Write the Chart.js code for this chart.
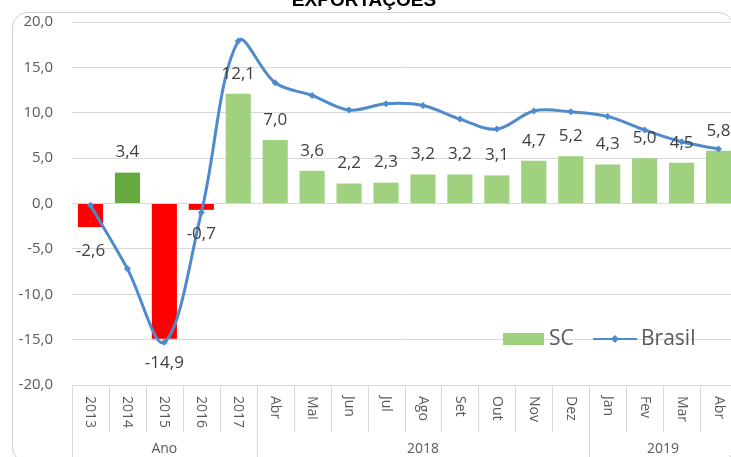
<!DOCTYPE html>
<html lang="pt-BR">
<head>
<meta charset="utf-8">
<title>Exportações</title>
<script src="https://cdn.jsdelivr.net/npm/chart.js@4.4.1/dist/chart.umd.min.js"></script>
<style>
  html, body { margin: 0; padding: 0; background: #fff; overflow: hidden; }
  #wrap { position: absolute; left: 0; top: 0; width: 745px; height: 457px; }
</style>
</head>
<body>
<div id="wrap"><canvas id="grafico" width="745" height="457"></canvas></div>
<script>
// variação (%) das exportações
const categorias = ['2013', '2014', '2015', '2016', '2017', 'Abr', 'Mai', 'Jun', 'Jul', 'Ago', 'Set', 'Out', 'Nov', 'Dez', 'Jan', 'Fev', 'Mar', 'Abr'];
const valoresSC = [-2.6, 3.4, -14.9, -0.7, 12.1, 7.0, 3.6, 2.2, 2.3, 3.2, 3.2, 3.1, 4.7, 5.2, 4.3, 5.0, 4.5, 5.8];
const valoresBrasil = [-0.2, -7.2, -15.3, -1.0, 17.9, 13.3, 11.9, 10.3, 11.0, 10.8, 9.3, 8.2, 10.2, 10.1, 9.6, 8.1, 6.8, 6.0];
const grupos = ['Ano', '2018', '2019'];
const tamanhoGrupo = [5, 9, 4];
const ticksY = [-20, -15, -10, -5, 0, 5, 10, 15, 20];

const VERDE = '#9fd17f';
const VERDE_ESCURO = '#64a83e';
const VERMELHO = '#ff0000';
const AZUL = '#4f8bcb';
const CINZA_TXT = '#595959';
const LINHA = '#d9d9d9';
const FONTE = '"Open Sans", "Noto Sans", sans-serif';

const fmt = v => v.toFixed(1).replace('.', ',');

function corBarra(ctx) {
  const v = ctx.raw;
  if (v < 0) return VERMELHO;
  return ctx.dataIndex === 1 ? VERDE_ESCURO : VERDE;
}

const desenho = {
  id: 'desenho',
  beforeDraw(chart) {
    const c = chart.ctx;
    c.save();
    c.fillStyle = '#fff';
    c.fillRect(0, 0, chart.width, chart.height);
    // moldura arredondada
    c.strokeStyle = '#d0d0d0';
    c.lineWidth = 1;
    c.beginPath();
    c.roundRect(12.5, 12.5, 721, 450, 15);
    c.stroke();
    // título
    c.fillStyle = '#000';
    c.font = 'bold 19px "Liberation Sans", Arial, sans-serif';
    c.textAlign = 'center';
    c.textBaseline = 'alphabetic';
    c.fillText('EXPORTAÇÕES', 364, 6);
    c.restore();
  },
  afterDatasetsDraw(chart) {
    const c = chart.ctx;
    const x = chart.scales.x;
    const area = chart.chartArea;
    const passo = x.getPixelForValue(1) - x.getPixelForValue(0);
    c.save();

    // rótulos de valor das barras
    const barras = chart.getDatasetMeta(0).data;
    c.font = '17px ' + FONTE;
    c.fillStyle = '#404040';
    c.textAlign = 'center';
    c.textBaseline = 'middle';
    barras.forEach((b, i) => {
      const v = valoresSC[i];
      const y = v < 0 ? b.y + 24 : b.y - 20;
      c.fillText(fmt(v), b.x, y);
    });

    // separadores das categorias e dos grupos
    c.strokeStyle = LINHA;
    c.lineWidth = 1;
    const limites = new Set([0]);
    let soma = 0;
    tamanhoGrupo.forEach(n => { soma += n; limites.add(soma); });
    for (let i = 0; i <= categorias.length; i++) {
      const px = Math.round(x.getPixelForValue(i) - passo / 2) + 0.5;
      const fim = limites.has(i) ? chart.height : area.bottom + 47;
      c.beginPath();
      c.moveTo(px, area.bottom);
      c.lineTo(px, fim);
      c.stroke();
    }

    // rótulos das categorias, girados
    c.fillStyle = CINZA_TXT;
    c.font = '14px ' + FONTE;
    c.textAlign = 'left';
    c.textBaseline = 'middle';
    categorias.forEach((lab, i) => {
      c.save();
      c.translate(x.getPixelForValue(i), area.bottom + 11);
      c.rotate(Math.PI / 2);
      c.fillText(lab, 0, 0);
      c.restore();
    });

    // rótulos dos grupos
    c.textAlign = 'center';
    let ini = 0;
    grupos.forEach((g, k) => {
      const a = x.getPixelForValue(ini) - passo / 2;
      const b = x.getPixelForValue(ini + tamanhoGrupo[k] - 1) + passo / 2;
      c.fillText(g, (a + b) / 2, area.bottom + 64);
      ini += tamanhoGrupo[k];
    });

    // legenda
    const ds = chart.data.datasets;
    const ly = 339;
    c.font = '21px ' + FONTE;
    c.textAlign = 'left';
    c.fillStyle = VERDE;
    c.fillRect(503, ly - 6, 41, 12);
    c.fillStyle = CINZA_TXT;
    c.fillText(ds[0].label, 549, ly);
    c.strokeStyle = AZUL;
    c.lineWidth = 2;
    c.beginPath();
    c.moveTo(593, ly);
    c.lineTo(637, ly);
    c.stroke();
    c.fillStyle = AZUL;
    c.beginPath();
    c.moveTo(615, ly - 4);
    c.lineTo(619, ly);
    c.lineTo(615, ly + 4);
    c.lineTo(611, ly);
    c.closePath();
    c.fill();
    c.fillStyle = CINZA_TXT;
    c.fillText(ds[1].label, 641, ly);

    c.restore();
  }
};

new Chart(document.getElementById('grafico'), {
  data: {
    labels: categorias,
    datasets: [
      {
        type: 'bar',
        label: 'SC',
        data: valoresSC,
        backgroundColor: corBarra,
        barPercentage: 0.68,
        categoryPercentage: 1,
        order: 1
      },
      {
        type: 'line',
        label: 'Brasil',
        data: valoresBrasil,
        borderColor: AZUL,
        backgroundColor: AZUL,
        borderWidth: 3,
        tension: 0.35,
        pointStyle: 'rectRot',
        pointRadius: 3.5,
        pointBorderWidth: 0,
        order: 0
      }
    ]
  },
  options: {
    responsive: false,
    animation: false,
    devicePixelRatio: 1,
    layout: { padding: { left: 0, top: 22, right: 8, bottom: 72 } },
    plugins: {
      legend: { display: false },
      tooltip: { enabled: false },
      title: { display: false }
    },
    scales: {
      x: {
        type: 'category',
        grid: { display: false },
        border: { display: false },
        ticks: { display: false },
        afterFit: s => { s.height = 0; }
      },
      y: {
        min: -20,
        max: 20,
        afterBuildTicks: s => { s.ticks = ticksY.map(v => ({ value: v })); },
        afterFit: s => { s.width = 72; s.paddingTop = 0; s.paddingBottom = 0; },
        grid: { color: LINHA, drawTicks: false },
        border: { display: false },
        ticks: {
          padding: 19,
          color: CINZA_TXT,
          font: { family: FONTE, size: 15 },
          callback: v => fmt(v)
        }
      }
    }
  },
  plugins: [desenho]
});
</script>
</body>
</html>
